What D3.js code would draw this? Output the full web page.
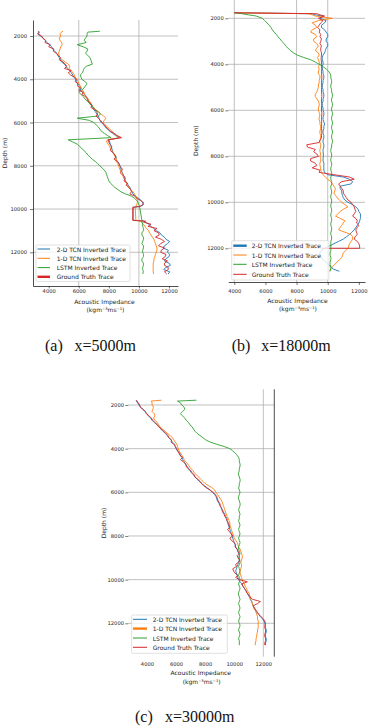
<!DOCTYPE html>
<html><head><meta charset="utf-8">
<script src="https://cdn.jsdelivr.net/npm/d3@7"></script>
<style>body{margin:0;background:#fff}svg{display:block}</style>
</head><body>
<svg id="fig" width="370" height="726"></svg>
<script>
// ---------- labels ----------
const seriesNames = ["2-D TCN Inverted Trace", "1-D TCN Inverted Trace", "LSTM Inverted Trace", "Ground Truth Trace"];
const seriesColors = ["#1f77b4", "#ff7f0e", "#2ca02c", "#d62728"];
const depthTicks = [2000, 4000, 6000, 8000, 10000, 12000];
const impTicks = [4000, 6000, 8000, 10000, 12000];
const captionLetters = ["(a)", "(b)", "(c)"];
const captionTexts = ["x=5000m", "x=18000m", "x=30000m"];

// ---------- panel (a) x=5000m ----------
const depthA = [1780, 1820, 1900,
  2000, 2100, 2200, 2300, 2400, 2500, 2600, 2700, 2800, 2900,
  3000, 3100, 3200, 3300, 3400, 3500, 3600, 3700, 3800, 3900,
  4000, 4100, 4200, 4300, 4400, 4500, 4600, 4700, 4800, 4900,
  5000, 5100, 5200, 5300, 5400, 5500, 5600, 5700, 5800, 5900,
  6000, 6100, 6200, 6300, 6400, 6500, 6600, 6700, 6800, 6900,
  7000, 7100, 7200, 7300, 7400, 7500, 7600, 7700, 7800, 7900,
  8000, 8100, 8200, 8300, 8400, 8500, 8600, 8700, 8800, 8900,
  9000, 9100, 9200, 9300, 9400, 9500, 9600, 9700, 9800,
  9880, 9920, 10520, 10560,
  10600, 10700, 10800, 10900,
  11000, 11100, 11200, 11300, 11400, 11500, 11600, 11700, 11800, 11900,
  12000, 12100, 12200, 12300, 12400, 12500, 12600, 12700, 12800, 12900,
  13000];
const tcn2A = [3300, 3350, 3250,
  3450, 3650, 3750, 3900, 4050, 4200, 4250, 4400, 4550, 4600,
  4700, 4800, 4850, 5050, 5150, 5250, 5400, 5500, 5600, 5650,
  5800, 5850, 5900, 6050, 6150, 6100, 6250, 6400, 6500, 6600,
  6650, 6700, 6850, 6950, 7000, 7100, 7200, 7300, 7350, 7400,
  7500, 7650, 7750, 7900, 8050, 8250, 8450, 8700, 8000, 8050,
  8100, 8150, 8200, 8250, 8250, 8400, 8500, 8450, 8600, 8650,
  8750, 8800, 8800, 8900, 8950, 9000, 9050, 9100, 9200, 9300,
  9400, 9450, 9550, 9600, 9750, 9950, 10150, 10250, 10300,
  10100, 9620, 9620, 10350,
  10400, 10650, 10800, 11000,
  11150, 11400, 11500, 11700, 11800, 12050, 11900, 11700, 11600, 11950,
  11900, 12050, 12000, 11800, 11700, 12000, 12100, 11800, 11650, 12050,
  11950];
const tcn1A = [4950, 4850, 4750,
  4800, 4700, 4750, 4850, 4900, 4800, 4750, 4700, 4650, 4700,
  4750, 4900, 5100, 5300, 5400, 5350, 5500, 5600, 5700, 5750,
  5900, 5950, 6000, 6100, 6150, 6250, 6350, 6400, 6500, 6600,
  6700, 6800, 6850, 7000, 7100, 7300, 7450, 7650, 7800, 7700,
  7600, 7750, 7900, 8050, 8200, 8350, 8500, 8750, 7900, 7850,
  7950, 8050, 8100, 8200, 8300, 8350, 8450, 8500, 8500, 8600,
  8650, 8700, 8750, 8850, 8950, 8950, 9000, 9100, 9150, 9250,
  9300, 9450, 9600, 9700, 9800, 9850, 9900, 9900, 9850,
  9800, 9750, 9800, 10100,
  10150, 10300, 10400, 10500,
  10650, 10700, 10800, 10900, 11000, 11050, 11100, 11150, 11200, 11200,
  11150, 11100, 11050, 11000, 11000, 10950, 10950, 10950, 10950, 10950,
  10980];
const lstmA = [7400, 6600, 6550,
  6550, 6450, 6350, 6500, 5900, 6300, 6600, 6550, 6450, 6600,
  6750, 6800, 6850, 6900, 6500, 6350, 6300, 6250, 6100, 6150,
  6200, 6400, 6550, 6450, 6350, 6200, 6000, 6150, 6300, 6400,
  6550, 6700, 6800, 6950, 7100, 7300, 7450, 7300, 5900, 6700,
  7000, 7150, 7300, 7400, 7500, 7700, 7900, 8150, 5300, 5600,
  5900, 6050, 6200, 6350, 6500, 6600, 6750, 6900, 7100, 7250,
  7400, 7550, 7700, 7800, 7850, 7900, 7950, 8000, 8100, 8250,
  8400, 8600, 8800, 9100, 9500, 9700, 9850, 9950, 10000,
  10050, 10050, 10200, 10200,
  10200, 10250, 10250, 10300,
  10300, 10200, 10200, 10300, 10300, 10250, 10200, 10300, 10300, 10250,
  10250, 10300, 10300, 10200, 10200, 10300, 10300, 10250, 10250, 10300,
  10250];
const gtA = [3330, 3380, 3300,
  3530, 3600, 3800, 3750, 4100, 4000, 4350, 4300, 4500, 4650,
  4780, 4700, 4950, 5100, 5200, 5050, 5500, 5300, 5450, 5700,
  5850, 5750, 5950, 5900, 6100, 6000, 6300, 6200, 6450, 6550,
  6600, 6750, 6900, 6800, 7050, 7200, 7250, 7150, 7300, 7450,
  7550, 7700, 7800, 7950, 8100, 8350, 8550, 8850, 7950, 8000,
  8050, 8200, 8150, 8100, 8300, 8400, 8450, 8350, 8550, 8700,
  8700, 8850, 8900, 8750, 8850, 9050, 9100, 9000, 9250, 9150,
  9350, 9450, 9500, 9400, 9700, 9850, 10100, 10300, 10250,
  10050, 9590, 9590, 10450,
  10300, 10800, 10600, 11200,
  11000, 11300, 11350, 11100, 11500, 11700, 11450, 11300, 11700, 11500,
  11450, 11800, 11750, 11550, 11900, 11700, 11700, 11950, 11950, 11700,
  11850];

// ---------- panel (b) x=18000m ----------
const depthB = [1760, 1800, 1850, 1900,
  2000, 2100, 2200, 2300, 2400, 2500, 2600, 2700, 2800, 2900,
  3000, 3100, 3200, 3300, 3400, 3500, 3600, 3700, 3800, 3900,
  4000, 4100, 4200, 4300, 4400, 4500, 4600, 4700, 4800, 4900,
  5000, 5100, 5200, 5300, 5400, 5500, 5600, 5700, 5800, 5900,
  6000, 6100, 6200, 6300, 6400, 6500, 6600, 6700, 6800, 6900,
  7000, 7100, 7200, 7300, 7400, 7500, 7600, 7700, 7800, 7900,
  8000, 8100, 8200, 8300, 8400, 8500, 8600, 8700, 8800, 8900,
  9000, 9100, 9200, 9300, 9400, 9500, 9600, 9700, 9800, 9900,
  10000, 10100, 10200, 10300, 10400, 10500, 10600, 10700, 10800, 10900,
  11000, 11100, 11200, 11300, 11400, 11500, 11600, 11700, 11800, 11900,
  12000, 12000,
  12100, 12200, 12300, 12400, 12500, 12600, 12700, 12800, 12900, 13000];
const tcn2B = [4000, 9000, 9200, 9700,
  9500, 9900, 9800, 9600, 9600, 9800, 9900, 10000, 10000, 9900,
  9900, 10000, 10000, 9900, 9850, 9800, 9700, 9650, 9650, 9700,
  9700, 9650, 9650, 9700, 9700, 9750, 9750, 9700, 9700, 9650,
  9650, 9700, 9700, 9750, 9750, 9700, 9700, 9650, 9650, 9700,
  9700, 9750, 9750, 9700, 9700, 9750, 9800, 9750, 9750, 9700,
  9700, 9750, 9750, 9700, 9700, 9750, 9750, 9700, 9700, 9720,
  9720, 9700, 9700, 9750, 9750, 9750, 9750, 9800, 10000, 11000,
  11400, 11600, 11500, 10800, 10800, 10900, 10900, 10950, 11000, 11100,
  11300, 11600, 11800, 11950, 12000, 12100, 12100, 12100, 12050, 12000,
  11900, 11800, 11700, 11550, 11400, 11200, 11000, 10700, 10400, 10100,
  9800, 9800,
  9600, 9500, 9500, 9600, 9700, 9900, 10000, 10200, 10350, 10750];
const tcn1B = [4000, 8800, 9000, 9200,
  10300, 9400, 9000, 9200, 9300, 9000, 8900, 9200, 9300, 9100,
  9100, 9300, 9400, 9300, 9200, 9400, 9450, 9350, 9400, 9450,
  9500, 9400, 9450, 9400, 9400, 9500, 9500, 9450, 9450, 9400,
  9400, 9350, 9300, 9200, 9200, 9300, 9400, 9450, 9450, 9400,
  9400, 9450, 9500, 9450, 9450, 9500, 9500, 9550, 9550, 9500,
  9500, 9550, 9550, 9500, 9500, 9550, 9550, 9500, 9500, 9550,
  9500, 9550, 9550, 9500, 9500, 9550, 9550, 9600, 9700, 9850,
  10000, 10200, 10300, 10400, 10500, 10450, 10400, 10500, 10600, 10750,
  10900, 11100, 11300, 11000, 10800, 10650, 10500, 10800, 11100, 11000,
  10900, 10800, 10700, 11100, 11500, 11600, 11600, 11500, 11400, 11350,
  11300, 11300,
  11150, 11000, 10950, 10900, 10750, 10600, 10450, 10300, 10200, 10100];
const lstmB = [4000, 4500, 4900, 5400,
  5800, 5950, 6100, 6250, 6350, 6450, 6550, 6700, 6800, 6950,
  7050, 7200, 7300, 7450, 7600, 7800, 8050, 8450, 8900, 9200,
  9450, 9700, 9900, 10050, 10150, 10200, 10200, 10250, 10250, 10200,
  10200, 10250, 10250, 10300, 10300, 10250, 10250, 10300, 10300, 10250,
  10250, 10300, 10300, 10250, 10250, 10300, 10300, 10250, 10250, 10300,
  10300, 10250, 10250, 10300, 10300, 10250, 10250, 10200, 10200, 10250,
  10250, 10200, 10200, 10250, 10250, 10200, 10200, 10250, 10250, 10200,
  10200, 10250, 10250, 10200, 10200, 10250, 10250, 10200, 10200, 10250,
  10250, 10200, 10200, 10250, 10250, 10200, 10200, 10250, 10250, 10200,
  10200, 10250, 10250, 10200, 10200, 10250, 10250, 10200, 10200, 10200,
  10200, 10200,
  10200, 10150, 10150, 10200, 10200, 10150, 10150, 10200, 10200, 10150];
const gtB = [4000, 9300, 9500, 9800,
  9400, 9700, 9550, 9450, 9350, 9500, 9450, 9550, 9500, 9600,
  9550, 9500, 9600, 9550, 9550, 9600, 9600, 9580, 9580, 9600,
  9600, 9600, 9620, 9600, 9600, 9620, 9620, 9600, 9600, 9610,
  9610, 9600, 9600, 9620, 9620, 9600, 9600, 9610, 9610, 9600,
  9600, 9620, 9620, 9600, 9600, 9610, 9610, 9600, 9600, 9620,
  9620, 9600, 9600, 9500, 9450, 8650, 8700, 9200, 9100, 9300,
  9400, 8900, 8900, 9200, 9300, 9000, 9500, 9450, 10400, 11400,
  11700, 10900, 10700, 10800, 10900, 11000, 11000, 11100, 11200, 11300,
  11500, 11600, 11700, 11750, 11800, 11700, 11600, 11800, 11900, 11850,
  12000, 11900, 11800, 11850, 11900, 11750, 11700, 11900, 12000, 12050,
  12050, 9600,
  null, null, null, null, null, null, null, null, null, null];

// ---------- panel (c) x=30000m ----------
const depthC = [1780, 1820, 1900,
  2000, 2100, 2200, 2300, 2400, 2500, 2600, 2700, 2800, 2900,
  3000, 3100, 3200, 3300, 3400, 3500, 3600, 3700, 3800, 3900,
  4000, 4100, 4200, 4300, 4400, 4500, 4600, 4700, 4800, 4900,
  5000, 5100, 5200, 5300, 5400, 5500, 5600, 5700, 5800, 5900,
  6000, 6100, 6200, 6300, 6400, 6500, 6600, 6700, 6800, 6900,
  7000, 7100, 7200, 7300, 7400, 7500, 7600, 7700, 7800, 7900,
  8000, 8100, 8200, 8300, 8400, 8500, 8600, 8700, 8800, 8900,
  9000, 9100, 9200, 9300, 9400, 9500, 9600, 9700, 9800, 9900,
  10000, 10100, 10200, 10300, 10400, 10500, 10600, 10700, 10800, 10900,
  11000, 11100, 11200, 11300, 11400, 11500, 11600, 11700, 11800, 11900,
  12000, 12100, 12200, 12300, 12400, 12500, 12600, 12700, 12800, 12900,
  13000];
const tcn2C = [3250, 3280, 3350,
  3450, 3550, 3700, 3850, 4000, 4100, 4250, 4350, 4500, 4700,
  4850, 4950, 5100, 5250, 5400, 5500, 5650, 5750, 5900, 5950,
  6000, 6100, 6250, 6300, 6400, 6450, 6550, 6650, 6750, 6850,
  6950, 7050, 7200, 7300, 7450, 7600, 7800, 7950, 8150, 8350,
  8500, 8650, 8750, 8800, 8850, 8950, 9000, 9100, 9200, 9250,
  9350, 9400, 9500, 9500, 9550, 9600, 9650, 9700, 9750, 9800,
  9850, 9900, 9950, 10000, 10050, 10100, 10200, 10250, 10300, 10350,
  10350, 10350, 10300, 10250, 10200, 10150, 10100, 10150, 10200, 10250,
  10300, 10400, 10550, 10600, 10700, 10800, 10900, 10950, 11050, 11100,
  11200, 11250, 11300, 11350, 11450, 11550, 11700, 11800, 11950, 12050,
  12100, 12150, 12150, 12200, 12200, 12150, 12150, 12200, 12200, 12150,
  12150];
const tcn1C = [5000, 4300, 4350,
  4350, 4450, 4400, 4350, 4500, 4550, 4450, 4550, 4700, 4800,
  4900, 5050, 5250, 5400, 5600, 5750, 5850, 5950, 6050, 6100,
  6150, 6200, 6300, 6400, 6500, 6550, 6650, 6800, 6900, 7000,
  7150, 7250, 7400, 7550, 7700, 7850, 8000, 8250, 8500, 8650,
  8750, 8850, 8950, 9050, 9150, 9200, 9250, 9300, 9350, 9400,
  9450, 9500, 9600, 9650, 9700, 9700, 9750, 9800, 9850, 9900,
  9950, 10000, 10100, 10200, 10250, 10300, 10400, 10450, 10500, 10550,
  10550, 10500, 10450, 10500, 10500, 10450, 10400, 10400, 10450, 10500,
  10550, 10600, 10700, 10750, 10850, 10900, 11000, 11050, 11100, 11150,
  11200, 11250, 11300, 11350, 11450, 11500, 11550, 11600, 11600, 11650,
  11650, 11650, 11650, 11600, 11600, 11550, 11550, 11500, 11500, 11450,
  11450];
const lstmC = [7400, 6100, 6300,
  6400, 6550, 6600, 6450, 6300, 6450, 6600, 6700, 6850, 6950,
  7100, 7200, 7300, 7450, 7650, 7850, 8050, 8350, 8800, 9300,
  9700, 9900, 10050, 10200, 10300, 10350, 10350, 10400, 10400, 10350,
  10350, 10300, 10300, 10350, 10400, 10400, 10350, 10350, 10300, 10350,
  10400, 10350, 10300, 10300, 10350, 10400, 10400, 10350, 10300, 10350,
  10400, 10350, 10350, 10300, 10350, 10400, 10350, 10300, 10350, 10400,
  10350, 10300, 10350, 10400, 10350, 10300, 10300, 10350, 10400, 10350,
  10300, 10350, 10400, 10350, 10300, 10350, 10400, 10350, 10300, 10350,
  10400, 10350, 10300, 10350, 10400, 10350, 10300, 10300, 10350, 10400,
  10350, 10300, 10350, 10400, 10350, 10300, 10350, 10400, 10350, 10300,
  10350, 10400, 10350, 10300, 10350, 10400, 10350, 10300, 10350, 10350,
  10350];
const gtC = [3280, 3310, 3400,
  3500, 3550, 3750, 3900, 3950, 4150, 4300, 4400, 4550, 4700,
  4800, 5000, 5150, 5300, 5450, 5500, 5700, 5650, 5850, 5950,
  6050, 6100, 6200, 6250, 6450, 6300, 6500, 6650, 6700, 6800,
  7000, 7100, 7250, 7300, 7500, 7650, 7750, 7900, 8100, 8350,
  8550, 8700, 8800, 8850, 8900, 9000, 9050, 9100, 9150, 9200,
  9300, 9350, 9450, 9500, 9600, 9650, 9700, 9550, 9650, 9800,
  9900, 9700, 9800, 10000, 10100, 10050, 10200, 10250, 10350, 10200,
  10250, 10400, 10300, 10100, 10150, 9900, 9950, 10050, 10250, 10100,
  10350, 10900, 10500, 10600, 10700, 10800, 10850, 11000, 11100, 11250,
  11800, 11600, 11300, 11400, 11500, 11600, 11700, 11850, 12000, 12100,
  12150, 12100, 12100, 12150, 12150, 12100, 12100, 12150, 12150, 12100,
  12100];

// ---------- layout ----------
const panels = [
  { depth: depthA, series: [tcn2A, tcn1A, lstmA, gtA],
    x0: 33, x1: 178, y0: 20, y1: 286, xDom: [2955, 12600], yDom: [1260, 13558],
    vgrid: [6000, 10000], leftSpine: true, bottomSpine: true, rightSpine: false,
    yTick: 3, yPad: 3, xTick: 2.5, xPad: 0.7,
    ylab: [4.5, 153], xlab: [104.5, 303.8], unit: [105.5, 312],
    leg: { x: 36, y: 245, w: 94, h: 36.5, rows: [249, 258.3, 267.6, 276.8], hx0: 37.5, hx1: 50, tx: 56.7, bold: 3 },
    cap: { y: 350.7, x1: 45, x2: 74.5 } },
  { depth: depthB, series: [tcn2B, tcn1B, lstmB, gtB],
    x0: 228.3, x1: 365, y0: 0, y1: 282, xDom: [3615, 12394], yDom: [1204, 13465],
    vgrid: [4000, 8000, 10000], leftSpine: false, bottomSpine: true, rightSpine: false,
    yTick: 3, yPad: 1.6, xTick: 3, xPad: 3.9,
    ylab: [195, 140.7], xlab: [297.5, 302.8], unit: [298, 311.4],
    leg: { x: 231.7, y: 240.7, w: 97.3, h: 39.3, rows: [245.7, 255, 264.3, 274.3], hx0: 233.3, hx1: 246.7, tx: 251.7, bold: 0 },
    cap: { y: 350.7, x1: 231.7, x2: 261.2 } },
  { depth: depthC, series: [tcn2C, tcn1C, lstmC, gtC],
    x0: 128.3, x1: 274.3, y0: 389.3, y1: 656.7, xDom: [2717, 12755], yDom: [1281, 13530],
    vgrid: [12000], leftSpine: false, bottomSpine: false, rightSpine: true,
    yTick: 3, yPad: 1.3, xTick: 0, xPad: 5.5,
    ylab: [103, 523], xlab: [200.8, 675.4], unit: [201.7, 684.4],
    leg: { x: 131.7, y: 615, w: 95.6, h: 38.3, rows: [619.3, 628.6, 638, 647.3], hx0: 133, hx1: 147, tx: 152.7, bold: 1 },
    cap: { y: 722, x1: 135, x2: 165 } }
];

const svg = d3.select("#fig");
const FONT = "DejaVu Sans, sans-serif";

panels.forEach((p, pi) => {
  const g = svg.append("g");
  const x = d3.scaleLinear().domain(p.xDom).range([p.x0, p.x1]);
  const y = d3.scaleLinear().domain(p.yDom).range([p.y0, p.y1]);

  // grid
  g.append("g").selectAll("line").data(depthTicks).join("line")
    .attr("x1", p.x0).attr("x2", p.x1).attr("y1", d => y(d)).attr("y2", d => y(d))
    .attr("stroke", "#b0b0b0").attr("stroke-width", 0.8);
  g.append("g").selectAll("line").data(p.vgrid).join("line")
    .attr("x1", d => x(d)).attr("x2", d => x(d)).attr("y1", p.y0).attr("y2", p.y1)
    .attr("stroke", "#b0b0b0").attr("stroke-width", 0.8);

  // clip
  const cid = "clip" + pi;
  svg.append("defs").append("clipPath").attr("id", cid).append("rect")
    .attr("x", p.x0).attr("y", p.y0).attr("width", p.x1 - p.x0).attr("height", p.y1 - p.y0);

  const line = d3.line().defined(d => d[0] != null).x(d => x(d[0])).y(d => y(d[1]));
  const lg = g.append("g").attr("clip-path", `url(#${cid})`);
  p.series.forEach((vals, i) => {
    const pts = p.depth.map((d, j) => [vals[j], d]);
    lg.append("path").datum(pts).attr("d", line)
      .attr("fill", "none").attr("stroke", seriesColors[i]).attr("stroke-width", 0.9)
      .attr("stroke-linejoin", "round");
  });

  // y axis
  const gy = g.append("g").attr("transform", `translate(${p.x0},0)`)
    .call(d3.axisLeft(y).tickValues(depthTicks).tickFormat(d3.format("d"))
      .tickSizeInner(p.yTick).tickSizeOuter(0).tickPadding(p.yPad));
  gy.selectAll("text").attr("font-family", FONT).attr("font-size", 5.2).attr("fill", "#222");
  gy.selectAll(".tick line").attr("stroke", "#222").attr("stroke-width", 0.6);
  if (p.leftSpine) gy.select(".domain").attr("stroke", "#222").attr("stroke-width", 0.8);
  else gy.select(".domain").remove();

  // x axis
  const gx = g.append("g").attr("transform", `translate(0,${p.y1})`)
    .call(d3.axisBottom(x).tickValues(impTicks).tickFormat(d3.format("d"))
      .tickSizeInner(p.xTick).tickSizeOuter(0).tickPadding(p.xPad));
  gx.selectAll("text").attr("font-family", FONT).attr("font-size", 5.2).attr("fill", "#222");
  gx.selectAll(".tick line").attr("stroke", "#222").attr("stroke-width", 0.6);
  if (p.bottomSpine) gx.select(".domain").attr("stroke", "#222").attr("stroke-width", 0.8);
  else gx.select(".domain").remove();

  if (p.rightSpine) {
    g.append("line").attr("x1", p.x1).attr("x2", p.x1).attr("y1", p.y0).attr("y2", p.y1)
      .attr("stroke", "#222").attr("stroke-width", 0.8);
  }

  // axis titles
  g.append("text").attr("transform", `translate(${p.ylab[0]},${p.ylab[1]}) rotate(-90)`)
    .attr("text-anchor", "middle").attr("dominant-baseline", "central")
    .attr("font-family", FONT).attr("font-size", 6).attr("fill", "#222").text("Depth (m)");
  g.append("text").attr("x", p.xlab[0]).attr("y", p.xlab[1]).attr("text-anchor", "middle")
    .attr("font-family", FONT).attr("font-size", 6).attr("fill", "#222").text("Acoustic Impedance");
  g.append("text").attr("x", p.unit[0]).attr("y", p.unit[1]).attr("text-anchor", "middle")
    .attr("font-family", FONT).attr("font-size", 6).attr("fill", "#222").text("(kgm⁻³ms⁻¹)");

  // legend
  const L = p.leg;
  const lgd = g.append("g");
  lgd.append("rect").attr("x", L.x).attr("y", L.y).attr("width", L.w).attr("height", L.h)
    .attr("rx", 1.2).attr("fill", "#fff").attr("fill-opacity", 0.8)
    .attr("stroke", "#cccccc").attr("stroke-width", 0.6);
  seriesNames.forEach((name, i) => {
    lgd.append("line").attr("x1", L.hx0).attr("x2", L.hx1).attr("y1", L.rows[i]).attr("y2", L.rows[i])
      .attr("stroke", seriesColors[i]).attr("stroke-width", i === L.bold ? 2.4 : 1);
    lgd.append("text").attr("x", L.tx).attr("y", L.rows[i]).attr("dominant-baseline", "central")
      .attr("font-family", FONT).attr("font-size", 6).attr("fill", "#222").text(name);
  });

  // caption
  svg.append("text").attr("x", p.cap.x1).attr("y", p.cap.y)
    .attr("font-family", "Liberation Serif, serif").attr("font-size", 16).attr("fill", "#111")
    .text(captionLetters[pi]);
  svg.append("text").attr("x", p.cap.x2).attr("y", p.cap.y)
    .attr("font-family", "Liberation Serif, serif").attr("font-size", 16).attr("fill", "#111")
    .text(captionTexts[pi]);
});
</script>
</body></html>
